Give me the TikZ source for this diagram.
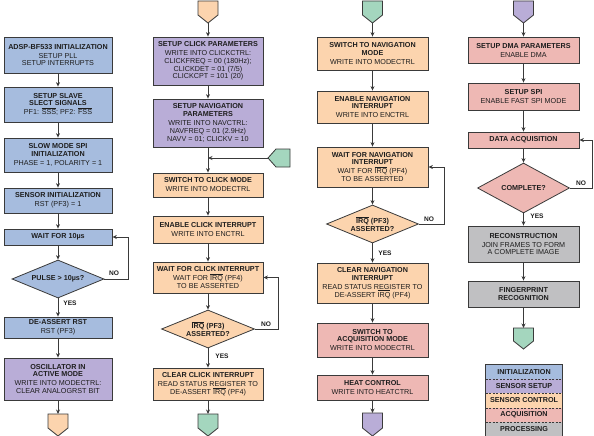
\documentclass[tikz,border=0pt]{standalone}
\usepackage{fontspec}
\setmainfont{Liberation Sans}
\usetikzlibrary{shapes.geometric,arrows.meta}
\definecolor{cinit}{HTML}{A6BCDE}
\definecolor{csetup}{HTML}{B9ADD7}
\definecolor{cctrl}{HTML}{FCD4AE}
\definecolor{cacq}{HTML}{EEB8B4}
\definecolor{cproc}{HTML}{C0C0C2}
\definecolor{cgreen}{HTML}{A4D6BE}
\definecolor{edge}{HTML}{3A3A3A}
\definecolor{txt}{HTML}{1E1E1E}
\newcommand\myol[1]{\ensuremath{\overline{\hbox{#1}}}}
\begin{document}
\begin{tikzpicture}[x=1pt,y=-1pt,
  box/.style={draw=edge, line width=0.8pt, fill=#1, inner sep=1pt, align=center,
    font=\fontsize{7.2}{7.8}\selectfont, text=txt},
  dia/.style={draw=edge, line width=0.8pt, fill=#1, diamond, inner sep=0pt, align=center,
    font=\fontsize{7.2}{7.8}\selectfont\bfseries, text=txt},
  wa/.style={minimum width=108},
  wb/.style={minimum width=110},
  wc/.style={minimum width=111},
  arr/.style={draw=edge, line width=0.8pt, -{Stealth[length=4.5pt,width=4pt]}},
  pent/.style={draw=edge, line width=0.8pt, fill=#1},
  lbl/.style={font=\fontsize{6.6}{7}\selectfont\bfseries, text=txt, inner sep=0pt},
  leg/.style={fill=#1, minimum width=76, minimum height=14.2, inner sep=0pt,
    font=\fontsize{7.2}{7.8}\selectfont\bfseries, text=txt}
]
\useasboundingbox (0,0) rectangle (594,436);

% ---------------- Column 1 ----------------
\node[box=cinit, wa, minimum height=36] (b1) at (58,55)
  {\textbf{ADSP-BF533 INITIALIZATION}\\[1.2pt]SETUP PLL\\SETUP INTERRUPTS};
\node[box=cinit, wa, minimum height=35] (b2) at (58,104.5)
  {\textbf{SETUP SLAVE}\\\textbf{SLECT SIGNALS}\\[1.2pt]PF1: \myol{SSS}; PF2: \myol{FSS}};
\node[box=cinit, wa, minimum height=34] (b3) at (58,155)
  {\textbf{SLOW MODE SPI}\\\textbf{INITIALIZATION}\\[1.2pt]PHASE = 1, POLARITY = 1};
\node[box=cinit, wa, minimum height=25] (b4) at (58,200.5)
  {\textbf{SENSOR INITIALIZATION}\\[1.2pt]RST (PF3) = 1};
\node[box=cinit, wa, minimum height=16] (b5) at (58,237)
  {\textbf{WAIT FOR 10µs}};
\node[dia=cinit, aspect=2.4, minimum width=92, minimum height=38] (d1) at (58,279)
  {PULSE > 10µs?};
\node[box=cinit, wa, minimum height=21] (b6) at (58,327.5)
  {\textbf{DE-ASSERT RST}\\[1.2pt]RST (PF3)};
\node[box=csetup, wa, minimum height=42] (b7) at (58,379)
  {\textbf{OSCILLATOR IN}\\\textbf{ACTIVE MODE}\\[1.2pt]WRITE INTO MODECTRL:\\CLEAR ANALOGRST BIT};
\draw[pent=cctrl] (48,414) -- (68,414) -- (68,428) -- (58,436) -- (48,428) -- cycle;
\coordinate (p1) at (58,414);

\draw[arr] (b1) -- (b2);
\draw[arr] (b2) -- (b3);
\draw[arr] (b3) -- (b4);
\draw[arr] (b4) -- (b5);
\draw[arr] (b5) -- (d1);
\draw[arr] (d1) -- (b6);
\draw[arr] (b6) -- (b7);
\draw[arr] (b7) -- (p1);
\draw[arr] (d1.east) -- ++(24,0) |- (b5.east);
\node[lbl] (no1) at (114,273) {NO};
\node[lbl] (yes1) at (70,303) {YES};

% ---------------- Column 2 ----------------
\draw[pent=cctrl] (198,1) -- (218,1) -- (218,15) -- (208,23) -- (198,15) -- cycle;
\coordinate (p2) at (208,23);
\node[box=csetup, wb, minimum height=48] (c1) at (208,61)
  {\textbf{SETUP CLICK PARAMETERS}\\[1.2pt]WRITE INTO CLICKCTRL:\\CLICKFREQ = 00 (180Hz);\\CLICKDET = 01 (7/5)\\CLICKCPT = 101 (20)};
\node[box=csetup, wb, minimum height=48] (c2) at (208,123)
  {\textbf{SETUP NAVIGATION}\\\textbf{PARAMETERS}\\[1.2pt]WRITE INTO NAVCTRL:\\NAVFREQ = 01 (2.9Hz)\\NAVV = 01; CLICKV = 10};
\draw[pent=cgreen] (290,149) -- (290,167) -- (276,167) -- (268,158) -- (276,149) -- cycle;
\coordinate (sp) at (268,158);
\coordinate (join2) at (208,158);
\node[box=cctrl, wb, minimum height=24] (c3) at (208,185)
  {\textbf{SWITCH TO CLICK MODE}\\[1.2pt]WRITE INTO MODECTRL};
\node[box=cctrl, wb, minimum height=27] (c4) at (208,229.5)
  {\textbf{ENABLE CLICK INTERRUPT}\\[1.2pt]WRITE INTO ENCTRL};
\node[box=cctrl, wb, minimum height=31] (c5) at (208,277.5)
  {\textbf{WAIT FOR CLICK INTERRUPT}\\[1.2pt]WAIT FOR \myol{IRQ} (PF4)\\TO BE ASSERTED};
\node[dia=cctrl, aspect=2.45, minimum width=93, minimum height=38] (d2) at (208,329)
  {\myol{IRQ} (PF3)\\ASSERTED?};
\node[box=cctrl, wb, minimum height=32] (c6) at (208,384)
  {\textbf{CLEAR CLICK INTERRUPT}\\[1.2pt]READ STATUS REGISTER TO\\DE-ASSERT \myol{IRQ} (PF4)};
\draw[pent=cgreen] (198,414) -- (218,414) -- (218,428) -- (208,436) -- (198,428) -- cycle;
\coordinate (p3) at (208,414);

\draw[arr] (p2) -- (c1);
\draw[arr] (c1) -- (c2);
\draw[arr] (c2) -- (c3);
\draw[arr] (sp) -- (join2);
\draw[arr] (c3) -- (c4);
\draw[arr] (c4) -- (c5);
\draw[arr] (c5) -- (d2);
\draw[arr] (d2) -- (c6);
\draw[arr] (c6) -- (p3);
\draw[arr] (d2.east) -- ++(23,0) |- (c5.east);
\node[lbl] (no2) at (266,324) {NO};
\node[lbl] (yes2) at (222,356) {YES};

% ---------------- Column 3 ----------------
\draw[pent=cgreen] (362.5,1) -- (382.5,1) -- (382.5,15) -- (372.5,23) -- (362.5,15) -- cycle;
\coordinate (p4) at (372.5,23);
\node[box=cctrl, wc, minimum height=33] (e1) at (372.5,53.5)
  {\textbf{SWITCH TO NAVIGATION}\\\textbf{MODE}\\[1.2pt]WRITE INTO MODECTRL};
\node[box=cctrl, wc, minimum height=32] (e2) at (372.5,107)
  {\textbf{ENABLE NAVIGATION}\\\textbf{INTERRUPT}\\[1.2pt]WRITE INTO ENCTRL};
\node[box=cctrl, wc, minimum height=40] (e3) at (372.5,167)
  {\textbf{WAIT FOR NAVIGATION}\\\textbf{INTERRUPT}\\[1.2pt]WAIT FOR \myol{IRQ} (PF4)\\TO BE ASSERTED};
\node[dia=cctrl, aspect=2.4, minimum width=92, minimum height=38] (d3) at (372.5,224)
  {\myol{IRQ} (PF3)\\ASSERTED?};
\node[box=cctrl, wc, minimum height=40] (e4) at (372.5,283)
  {\textbf{CLEAR NAVIGATION}\\\textbf{INTERRUPT}\\[1.2pt]READ STATUS REGISTER TO\\DE-ASSERT \myol{IRQ} (PF4)};
\node[box=cacq, wc, minimum height=34] (e5) at (372.5,340)
  {\textbf{SWITCH TO}\\\textbf{ACQUISITION MODE}\\[1.2pt]WRITE INTO MODECTRL};
\node[box=cacq, wc, minimum height=25] (e6) at (372.5,387.5)
  {\textbf{HEAT CONTROL}\\[1.2pt]WRITE INTO HEATCTRL};
\draw[pent=csetup] (362.5,413) -- (382.5,413) -- (382.5,428) -- (372.5,436) -- (362.5,428) -- cycle;
\coordinate (p5) at (372.5,413);

\draw[arr] (p4) -- (e1);
\draw[arr] (e1) -- (e2);
\draw[arr] (e2) -- (e3);
\draw[arr] (e3) -- (d3);
\draw[arr] (d3) -- (e4);
\draw[arr] (e4) -- (e5);
\draw[arr] (e5) -- (e6);
\draw[arr] (e6) -- (p5);
\draw[arr] (d3.east) -- ++(25,0) |- (e3.east);
\node[lbl] (no3) at (429,219) {NO};
\node[lbl] (yes3) at (385,253) {YES};

% ---------------- Column 4 ----------------
\draw[pent=csetup] (513.5,1) -- (533.5,1) -- (533.5,15) -- (523.5,23) -- (513.5,15) -- cycle;
\coordinate (p6) at (523.5,23);
\node[box=cacq, wc, minimum height=26] (f1) at (523.5,50)
  {\textbf{SETUP DMA PARAMETERS}\\[1.2pt]ENABLE DMA};
\node[box=cacq, wc, minimum height=27] (f2) at (523.5,96.5)
  {\textbf{SETUP SPI}\\[1.2pt]ENABLE FAST SPI MODE};
\node[box=cacq, wc, minimum height=16] (f3) at (523.5,140)
  {\textbf{DATA ACQUISITION}};
\node[dia=cacq, aspect=1.84, minimum width=92, minimum height=50] (d4) at (523.5,188)
  {COMPLETE?};
\node[box=cproc, wc, minimum height=36] (f4) at (523.5,244)
  {\textbf{RECONSTRUCTION}\\[1.2pt]JOIN FRAMES TO FORM\\A COMPLETE IMAGE};
\node[box=cproc, wc, minimum height=26] (f5) at (523.5,294)
  {\textbf{FINGERPRINT}\\\textbf{RECOGNITION}};
\draw[pent=cgreen] (513.5,328) -- (533.5,328) -- (533.5,341) -- (523.5,349) -- (513.5,341) -- cycle;
\coordinate (p7) at (523.5,328);

\draw[arr] (p6) -- (f1);
\draw[arr] (f1) -- (f2);
\draw[arr] (f2) -- (f3);
\draw[arr] (f3) -- (d4);
\draw[arr] (d4) -- (f4);
\draw[arr] (f4) -- (f5);
\draw[arr] (f5) -- (p7);
\draw[arr] (d4.east) -- ++(22,0) |- (f3.east);
\node[lbl] (no4) at (581,183) {NO};
\node[lbl] (yes4) at (537,216) {YES};

% ---------------- Legend ----------------
\node[leg=cinit] (l1) at (524,372.1) {INITIALIZATION};
\node[leg=csetup] (l2) at (524,386.3) {SENSOR SETUP};
\node[leg=cctrl] (l3) at (524,400.5) {SENSOR CONTROL};
\node[leg=cacq] (l4) at (524,414.7) {ACQUISITION};
\node[leg=cproc] (l5) at (524,428.9) {PROCESSING};
\foreach \a/\b in {l1/l2,l2/l3,l3/l4,l4/l5}
  \draw[edge, line width=0.6pt, dash pattern=on 2pt off 1.5pt] (\a.south west) -- (\a.south east);
\draw[edge, line width=0.9pt] (l1.north west) rectangle (l5.south east);
\end{tikzpicture}
\end{document}
